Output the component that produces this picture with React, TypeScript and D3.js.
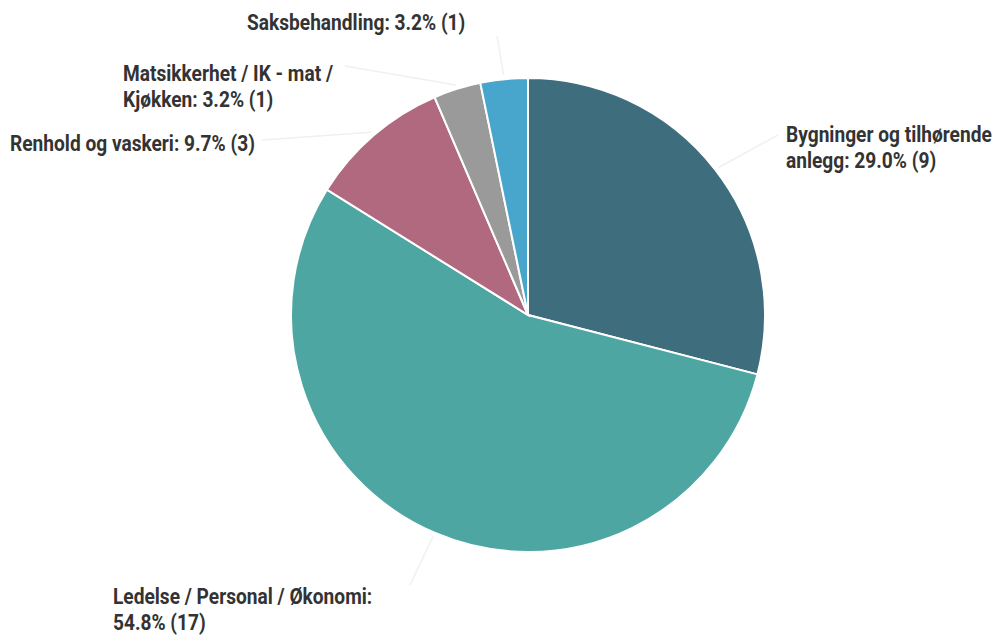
import React from "react";
import * as d3 from "d3";

const categories = [
  "Bygninger og tilhørende anlegg",
  "Ledelse / Personal / Økonomi",
  "Renhold og vaskeri",
  "Matsikkerhet / IK - mat / Kjøkken",
  "Saksbehandling",
];
const counts = [9, 17, 3, 1, 1];
const colors = ["#3e6d7e", "#4ea6a3", "#b0697e", "#9a9a9a", "#48a6cc"];
// label lines as shown in the picture
const labelLines = [
  ["Bygninger og tilhørende", "anlegg: 29.0% (9)"],
  ["Ledelse / Personal / Økonomi:", "54.8% (17)"],
  ["Renhold og vaskeri: 9.7% (3)"],
  ["Matsikkerhet / IK - mat /", "Kjøkken: 3.2% (1)"],
  ["Saksbehandling: 3.2% (1)"],
];

const width = 1002;
const height = 641;
const cx = 528;
const cy = 315;
const radius = 237;

// where each label block sits, and where its leader line ends
const labelPos = [
  { x: 786, y: 142, lx: 778, ly: 135 },
  { x: 113, y: 604, lx: 410, ly: 585 },
  { x: 10, y: 151, lx: 262, ly: 140 },
  { x: 123, y: 81, lx: 345, ly: 66 },
  { x: 247, y: 30, lx: 497, ly: 36 },
];

export default function App() {
  const pie = d3
    .pie<number>()
    .sort(null)
    .value((d) => d);
  const arcs = pie(counts);
  const arc = d3.arc<d3.PieArcDatum<number>>().innerRadius(0).outerRadius(radius);
  const edgeArc = d3
    .arc<d3.PieArcDatum<number>>()
    .innerRadius(radius + 4)
    .outerRadius(radius + 4);

  return (
    <svg
      width={width}
      height={height}
      style={{ position: "absolute", left: 0, top: 0, background: "#fff" }}
    >
      <g transform={`translate(${cx},${cy})`}>
        {arcs.map((a, i) => (
          <path key={i} d={arc(a) || ""} fill={colors[i]} stroke="#fff" strokeWidth={2} />
        ))}
        {arcs.map((a, i) => {
          const [sx, sy] = edgeArc.centroid(a);
          const p = labelPos[i];
          return (
            <line
              key={"l" + i}
              x1={sx}
              y1={sy}
              x2={p.lx - cx}
              y2={p.ly - cy}
              stroke="#f0f0f0"
              strokeWidth={1.5}
            />
          );
        })}
      </g>
      {labelLines.map((lines, i) => {
        const p = labelPos[i];
        return (
          <g key={"t" + i} transform={`translate(${p.x},${p.y}) scale(0.87,1)`}>
            {lines.map((t, j) => (
              <text
                key={j}
                x={0}
                y={j * 26}
                fontFamily="Roboto, sans-serif"
                fontWeight={700}
                fontSize={22}
                fill="#333"
              >
                {t}
              </text>
            ))}
          </g>
        );
      })}
    </svg>
  );
}
